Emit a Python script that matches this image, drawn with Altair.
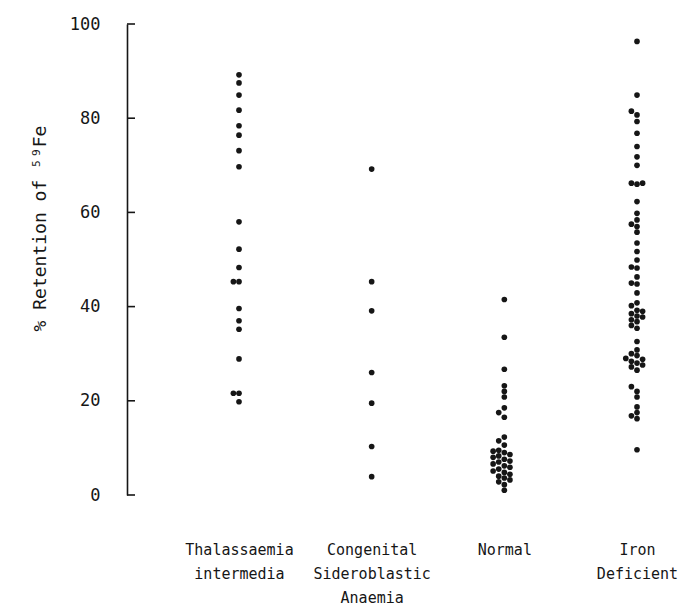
import altair as alt
import pandas as pd

categories = ["Thalassaemia|intermedia", "Congenital|Sideroblastic|Anaemia", "Normal", "Iron|Deficient"]

thal = [89.2, 87.5, 84.9, 81.7, 78.4, 76.4, 73.1, 69.7, 58.0, 52.2, 48.3, 45.3, 45.3,
        39.6, 37.0, 35.2, 28.9, 21.6, 21.6, 19.8]
cong = [69.2, 45.3, 39.1, 26.0, 19.5, 10.3, 3.9]
normal = [41.5, 33.5, 26.7, 23.2, 22.0, 20.8, 18.5, 17.5, 16.5, 12.3, 11.5, 10.6, 9.5,
          9.3, 9.0, 8.6, 8.3, 8.0, 7.6, 7.2, 7.0, 6.6, 6.2, 5.9, 5.5, 5.1, 4.8, 4.4,
          4.0, 3.6, 3.2, 2.8, 2.2, 1.0]
iron = [96.3, 84.9, 81.5, 80.7, 79.3, 76.8, 74.0, 71.8, 70.0, 66.2, 66.2, 66.0, 62.3,
        59.8, 58.4, 57.5, 57.0, 55.8, 53.5, 51.7, 49.9, 48.4, 48.2, 46.3, 45.0, 44.8,
        42.9, 40.8, 40.2, 39.2, 39.0, 38.5, 38.0, 37.8, 37.2, 36.8, 36.0, 35.4, 32.6,
        30.8, 30.0, 29.6, 29.0, 28.8, 28.4, 28.0, 27.6, 27.2, 26.5, 23.0, 22.0, 20.8,
        18.7, 17.5, 16.8, 16.2, 9.6]

y_ticks = [0, 20, 40, 60, 80, 100]

PX_PER_UNIT = 4.71   # plot height / y-domain
DOT = 5.6            # collision distance in px


def swarm(values):
    """Simple dot-plot layout: side-by-side offsets for overlapping dots."""
    placed = []
    offs = []
    for v in values:
        ypx = v * PX_PER_UNIT
        cands = [0]
        for i in range(1, 8):
            cands += [-i * DOT, i * DOT]
        for c in cands:
            ok = all(((c - px) ** 2 + (ypx - py) ** 2) >= (DOT * 0.95) ** 2 for px, py in placed)
            if ok:
                break
        placed.append((c, ypx))
        offs.append(c)
    return offs


rows = []
for cat, vals in zip(categories, [thal, cong, normal, iron]):
    svals = sorted(vals)
    for v, o in zip(svals, swarm(svals)):
        rows.append({"group": cat, "value": v, "off": o})
df = pd.DataFrame(rows)
ticks_df = pd.DataFrame({"t": y_ticks})

FONT = "DejaVu Sans Mono"
INK = "#161616"

points = alt.Chart(df).mark_circle(size=32, opacity=1, color=INK).encode(
    x=alt.X("group:N", sort=categories,
            scale=alt.Scale(type="point", domain=categories, range=[112, 510], padding=0),
            axis=alt.Axis(title=None, domain=False, ticks=False, labelAngle=0,
                          labelExpr="split(datum.label, '|')",
                          labelFont=FONT, labelFontSize=15, labelLineHeight=24,
                          labelColor=INK, labelPadding=47, labelBaseline="top")),
    xOffset=alt.XOffset("off:Q", scale=alt.Scale(domain=[-50, 50], range=[-50, 50])),
    y=alt.Y("value:Q", scale=alt.Scale(domain=[0, 100], nice=False, zero=True),
            axis=alt.Axis(values=y_ticks, ticks=False, tickSize=0, grid=False,
                          domainColor=INK, domainWidth=1.6,
                          labelFont=FONT, labelFontSize=17, labelColor=INK,
                          labelPadding=27,
                          title="% Retention of ⁵⁹Fe", titleFont=FONT,
                          titleFontSize=18, titleFontWeight="normal", titleColor=INK,
                          titleX=-87, titleY=204, titleAngle=-90,
                          titleAlign="center", titleBaseline="middle")),
)

tick_marks = alt.Chart(ticks_df).mark_rule(color=INK, strokeWidth=1.6).encode(
    y=alt.Y("t:Q"),
    x=alt.value(0),
    x2=alt.value(8),
)

chart = alt.layer(points, tick_marks).properties(
    width=540, height=471,
    padding={"left": 127, "top": 24, "right": 19, "bottom": 113},
    autosize=alt.AutoSizeParams(type="none"),
    background="white",
).configure_view(stroke=None)

chart.save("out.html", embed_options={"renderer": "svg", "actions": False})
